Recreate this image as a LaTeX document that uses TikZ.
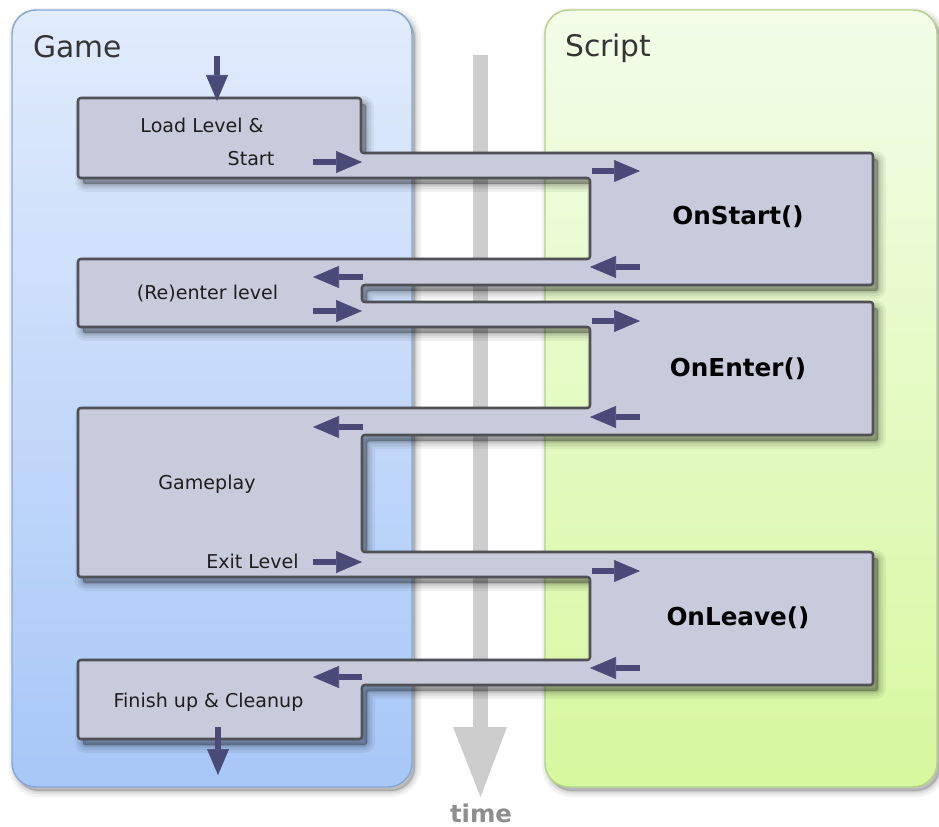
\documentclass[tikz,border=0pt]{standalone}
\usepackage{fontspec}
\setmainfont{DejaVu Sans}
\usetikzlibrary{arrows.meta}
\definecolor{gamet}{HTML}{E1ECFC}
\definecolor{gameb}{HTML}{A7C7F7}
\definecolor{gameline}{HTML}{86A8D6}
\definecolor{scrt}{HTML}{F3FDE9}
\definecolor{scrb}{HTML}{D7F89E}
\definecolor{scrline}{HTML}{B3D389}
\definecolor{bandfill}{HTML}{C8CBDC}
\definecolor{bandline}{HTML}{505057}
\definecolor{arrowc}{HTML}{4A4A78}
\definecolor{timec}{HTML}{CDCDCD}
\definecolor{timetext}{HTML}{8E8E8E}
\definecolor{txt}{HTML}{1E1E1E}
\begin{document}
\begin{tikzpicture}[x=0.75pt,y=-0.75pt,
  panel/.style={rounded corners=18pt, line width=1.1pt},
  title/.style={font=\fontsize{22.3}{24}\selectfont, text=txt!90, inner sep=0pt, anchor=base west},
  lbl/.style={font=\fontsize{14.3}{16}\selectfont, text=txt, inner sep=0pt, anchor=base},
  fn/.style={font=\fontsize{18.5}{20}\selectfont\bfseries, text=black, inner sep=0pt, anchor=base},
  flow/.style={draw=arrowc, line width=3.8pt,
    -{Triangle[length=19.5pt,width=16.5pt,line width=0.4pt]}},
  band/.pic={\path[pic actions, rounded corners=2pt]
    (78,98) -- (361,98) -- (361,153) -- (873,153) -- (873,285) -- (362,285)
    -- (362,302) -- (873,302) -- (873,435) -- (362,435) -- (362,552)
    -- (873,552) -- (873,685) -- (362,685) -- (362,739) -- (78,739)
    -- (78,660) -- (590,660) -- (590,577) -- (78,577) -- (78,408)
    -- (590,408) -- (590,327) -- (78,327) -- (78,259) -- (590,259)
    -- (590,178) -- (78,178) -- cycle;},
  gpanel/.pic={\path[pic actions, rounded corners=18pt] (12,10) rectangle (412,787);},
  spanel/.pic={\path[pic actions, rounded corners=18pt] (545,10) rectangle (937,787);}
]
\useasboundingbox[fill=white] (0,0) rectangle (939,827);

% panel shadows
\foreach \w/\o in {9/0.05,5/0.06,2/0.08}{
  \pic[fill=black, draw=black, line width=\w pt, opacity=\o] at (3,4) {gpanel};
  \pic[fill=black, draw=black, line width=\w pt, opacity=\o] at (3,4) {spanel};
}
% panels
\pic[panel, draw=gameline, top color=gamet, bottom color=gameb] {gpanel};
\pic[panel, draw=scrline, top color=scrt, bottom color=scrb] {spanel};

\node[title] (gametitle) at (33,58) {Game};
\node[title] (scripttitle) at (565,57) {Script};

% time axis
\fill[timec] (473,55) rectangle (488,728);
\fill[timec] (453,727) -- (507,727) -- (480.5,797) -- cycle;
\node[font=\fontsize{18.3}{20}\selectfont\bfseries, text=timetext, inner sep=0pt, anchor=base]
  (timelbl) at (481,822) {time};

% band shadow
\foreach \w/\o in {12/0.05,8/0.07,4/0.09,1/0.1}{
  \pic[fill=black, draw=black, line width=\w pt, opacity=\o, line join=round] at (5,6) {band};
}
% band
\pic[fill=bandfill, draw=bandline, line width=1.9pt, line join=round] {band};

% texts
\node[lbl] (load) at (202,133) {Load Level \&};
\node[lbl] (start) at (251,166) {Start};
\node[lbl] (reenter) at (207.5,300) {(Re)enter level};
\node[lbl] (gameplay) at (207,489) {Gameplay};
\node[lbl] (exitlvl) at (252.5,568) {Exit Level};
\node[lbl] (finish) at (208.5,707) {Finish up \& Cleanup};
\node[fn] (onstart) at (738,225) {OnStart()};
\node[fn] (onenter) at (738,376) {OnEnter()};
\node[fn] (onleave) at (738,625) {OnLeave()};

% arrow end points
\path
  coordinate (a0s) at (217,56)  coordinate (a0e) at (217,101)
  coordinate (a1s) at (313,162) coordinate (a1e) at (362,162)
  coordinate (a2s) at (592,171) coordinate (a2e) at (640,171)
  coordinate (a3s) at (640,267) coordinate (a3e) at (590,267)
  coordinate (a4s) at (363,277) coordinate (a4e) at (313,277)
  coordinate (a5s) at (313,311) coordinate (a5e) at (362,311)
  coordinate (a6s) at (592,321) coordinate (a6e) at (640,321)
  coordinate (a7s) at (640,417) coordinate (a7e) at (590,417)
  coordinate (a8s) at (363,427) coordinate (a8e) at (313,427)
  coordinate (a9s) at (313,562) coordinate (a9e) at (362,562)
  coordinate (a10s) at (592,571) coordinate (a10e) at (640,571)
  coordinate (a11s) at (640,668) coordinate (a11e) at (590,668)
  coordinate (a12s) at (362,677) coordinate (a12e) at (313,677)
  coordinate (a13s) at (218,727) coordinate (a13e) at (218,775);
\foreach \i in {0,...,13}{ \draw[flow] (a\i s) -- (a\i e); }
\end{tikzpicture}
\end{document}
